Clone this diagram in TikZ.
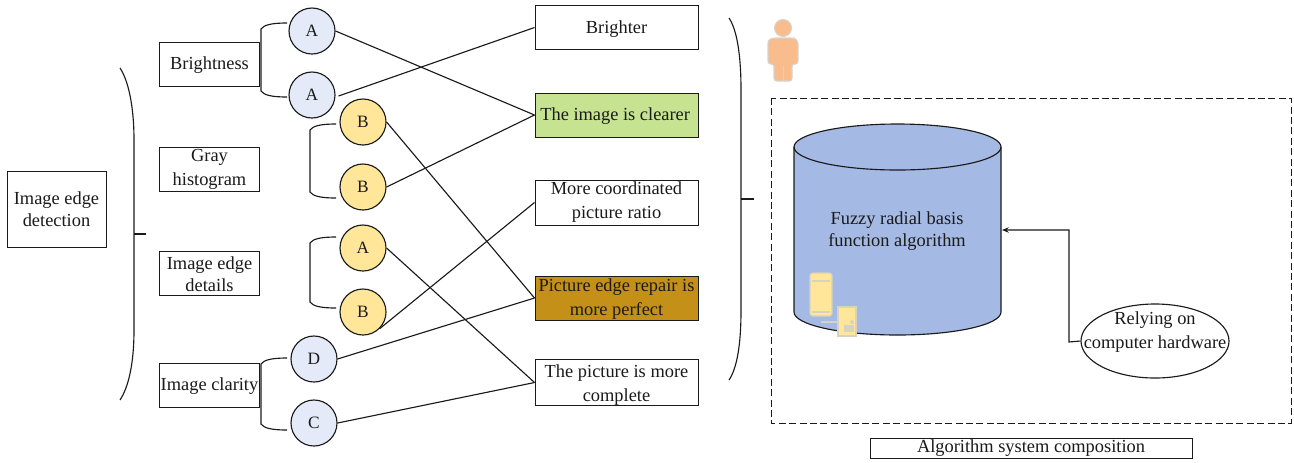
\documentclass[tikz,border=0pt]{standalone}
\usepackage{fontspec}
\setmainfont{Liberation Serif}
\usetikzlibrary{calc,shapes.geometric,arrows.meta}
\definecolor{circblue}{HTML}{E4EAF7}
\definecolor{circyel}{HTML}{FFE699}
\definecolor{cylblue}{HTML}{A4B9E3}
\definecolor{boxgreen}{HTML}{C5E391}
\definecolor{boxbrown}{HTML}{C49018}
\definecolor{person}{HTML}{F9BC8C}
\definecolor{persong}{HTML}{D9D3CC}
\definecolor{devline}{HTML}{D8D2BE}
\definecolor{inkc}{HTML}{1A1A1A}
\tikzset{
  lbl/.style={draw=inkc,line width=0.75pt,fill=white,align=center,inner sep=0pt,font=\fontsize{13.8}{18}\selectfont,text=inkc},
  circ/.style={circle,draw=inkc,line width=0.85pt,minimum size=34.5pt,inner sep=0pt,font=\fontsize{13}{15}\selectfont,text=inkc},
  wire/.style={draw=inkc,line width=0.85pt},
  free/.style={align=center,font=\fontsize{13.8}{18}\selectfont,text=inkc},
  dev/.style={draw=devline,line width=0.8pt,fill=circyel}
}
\newcommand{\bx}[7][]{\node[lbl,#1,minimum width=#6*0.75pt,minimum height=#7*0.75pt] (#2) at (#4,#5) {#3};}
\newcommand{\brk}[3]{\draw[wire] (#1+26,#2) .. controls (#1+10,#2) and (#1+3,#2+2) .. (#1,#2+6) -- (#1,#3-6) .. controls (#1+3,#3-2) and (#1+10,#3) .. (#1+26,#3);}
\begin{document}
\begin{tikzpicture}[x=0.75pt,y=-0.75pt]
\useasboundingbox (0,0) rectangle (1294,462);
\bx{det}{Image edge\\[-1.5pt]detection}{56.5}{209}{99}{76}
\bx{bri}{\rule{0pt}{10.8pt}Brightness}{209.5}{64.5}{100}{44}
\bx{gray}{Gray\\histogram}{209.5}{169}{100}{44}
\bx{edge}{\rule{0pt}{11pt}Image edge\\[-1.5pt]details}{209.5}{273}{100}{44}
\bx{clar}{\rule{0pt}{10.8pt}Image clarity}{209.5}{385}{100}{44}
\bx{r1}{\rule{0pt}{12.5pt}Brighter}{616.5}{27.5}{163}{44}
\bx[fill=boxgreen]{r2}{\rule{0pt}{10.8pt}\hspace*{-2pt}The image is clearer}{616.5}{115}{163}{44}
\bx{r3}{More coordinated\\picture ratio}{616.5}{202.5}{163}{45}
\bx[fill=boxbrown]{r4}{\rule{0pt}{11pt}Picture edge repair is\\more perfect}{616.5}{298}{163}{44}
\bx{r5}{\rule{0pt}{14pt}The picture is more\\complete}{616.5}{382.5}{163}{45}
\node[circ,fill=circblue] (c1) at (312,31) {A};
\node[circ,fill=circblue] (c2) at (312,95) {A};
\node[circ,fill=circyel] (c3) at (363,122) {B};
\node[circ,fill=circyel] (c4) at (363,187) {B};
\node[circ,fill=circyel] (c5) at (363,248) {A};
\node[circ,fill=circyel] (c6) at (363,312) {B};
\node[circ,fill=circblue] (c7) at (314,359) {D};
\node[circ,fill=circblue] (c8) at (314,423) {C};
% connectors
\draw[wire] (c1.east) -- (r2.west);
\draw[wire] ($(c2.east)+(3,1)$) -- (r1.west);
\draw[wire] (c3.east) -- (r4.west);
\draw[wire] (c4.east) -- (r2.west);
\draw[wire] (c5.east) -- (r5.west);
\draw[wire] (c6.south east) -- (r3.west);
\draw[wire] (c7.east) -- (r4.west);
\draw[wire] (c8.east) -- (r5.west);
% small brackets
\brk{261}{23}{97}
\brk{310}{124}{198}
\brk{310}{237}{308}
\brk{261}{358}{430}
% big braces
\draw[wire] (120,68) .. controls (128,80) and (134,105) .. (134,140) -- (134,330) .. controls (134,365) and (128,388) .. (120,400);
\coordinate (lt) at (134,234); \coordinate (lte) at (146,234);
\draw[wire] (lt) -- (lte);
\draw[wire] (729,18) .. controls (737,30) and (741,55) .. (741,90) -- (741,310) .. controls (741,345) and (737,368) .. (729,380);
\coordinate (rt) at (741,199); \coordinate (rte) at (754,199);
\draw[wire] (rt) -- (rte);
% dashed frame
\draw[draw=inkc,line width=0.75pt,dash pattern=on 5.2pt off 2.6pt] (771,98) rectangle (1291,423);
% person
\fill[person,draw=persong,line width=0.8pt] (783,28) circle[radius=8.5];
\draw[draw=persong,line width=0.8pt,fill=person,rounded corners=2pt] (768,64) -- (768,40) -- (773,38) -- (794,38) -- (798,41) -- (798,64) -- (792,64) -- (792,81) -- (774,81) -- (774,64) -- cycle;
\draw[persong,line width=0.6pt] (783,66) -- (783,81);
% cylinder
\path[fill=cylblue] (794,147) -- (794,312) .. controls (794,324.7) and (840,335) .. (897.5,335) .. controls (955,335) and (1001,324.7) .. (1001,312) -- (1001,147) -- cycle;
\draw[wire,fill=cylblue] (897.5,147) ellipse[x radius=103.5,y radius=23];
\draw[wire] (794,147) -- (794,312) .. controls (794,324.7) and (840,335) .. (897.5,335) .. controls (955,335) and (1001,324.7) .. (1001,312) -- (1001,147);
\node[free] (fz) at (897,231) {Fuzzy radial basis\\[-1.5pt]function algorithm};
% devices
\draw[dev,rounded corners=2pt] (810,273) rectangle (832,316);
\fill[devline] (812,280) rectangle (830,282);
\fill[devline] (812,311) rectangle (830,313);
\draw[devline,line width=0.8pt] (821,322) -- (838,322);
\draw[dev] (838,307) rectangle (856,336);
\fill[devline] (852,322) circle[radius=2];
\fill[devline] (844,325) rectangle (854,332);
% ellipse
\node[draw=inkc,line width=0.85pt,ellipse,fill=white,minimum width=111pt,minimum height=55.5pt,inner sep=0pt] (hw) at (1155,341) {};
\node[free] (hwt) at (1155,332) {Relying on\\computer hardware};
\coordinate (corn1) at (1069,342); \coordinate (corn2) at (1069,230); \coordinate (cyltgt) at (1002,230);
\draw[wire,-{Stealth[length=5pt,width=4pt]}] (hw.west) -- (corn1) -- (corn2) -- (cyltgt);
% caption
\bx{cap}{Algorithm system composition}{1031}{448}{322}{20}
\end{tikzpicture}
\end{document}
